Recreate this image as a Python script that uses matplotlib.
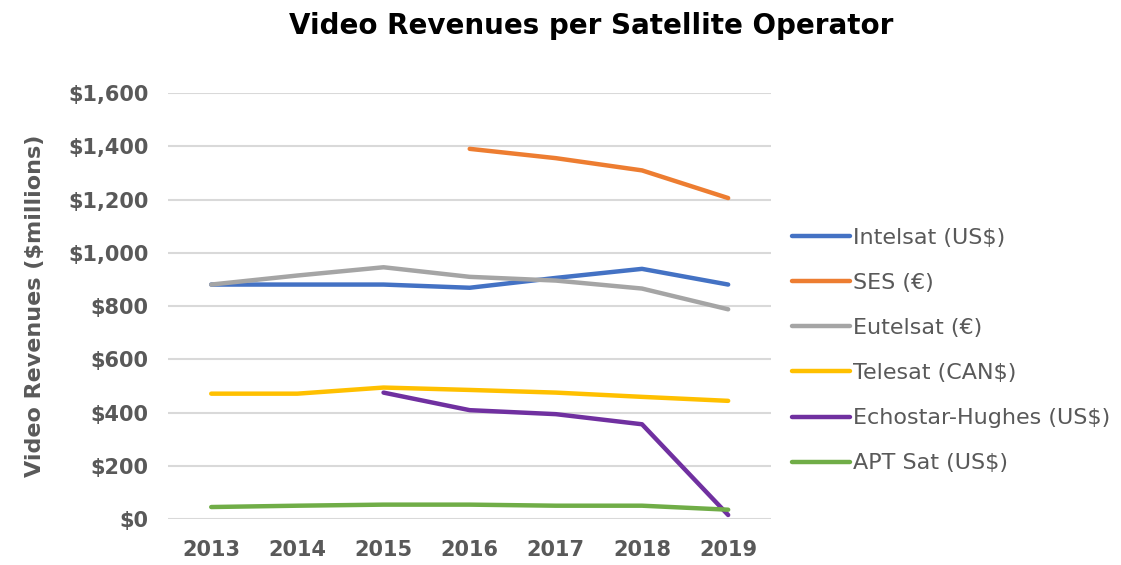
import numpy as np
import matplotlib.pyplot as plt
from matplotlib.ticker import FuncFormatter

years = ["2013", "2014", "2015", "2016", "2017", "2018", "2019"]

intelsat = [881, 881, 881, 869, 906, 940, 881]
ses = [np.nan, np.nan, np.nan, 1391, 1356, 1310, 1206]
eutelsat = [881, 915, 946, 910, 896, 866, 788]
telesat = [471, 471, 494, 485, 475, 459, 444]
echostar = [np.nan, np.nan, 475, 409, 394, 356, 15]
aptsat = [45, 50, 54, 54, 50, 50, 35]

series = [
    ("Intelsat (US$)", intelsat, "#4472C4"),
    ("SES (€)", ses, "#ED7D31"),
    ("Eutelsat (€)", eutelsat, "#A5A5A5"),
    ("Telesat (CAN$)", telesat, "#FFC000"),
    ("Echostar-Hughes (US$)", echostar, "#7030A0"),
    ("APT Sat (US$)", aptsat, "#70AD47"),
]

plt.rcParams["font.family"] = ["DejaVu Sans"]

fig = plt.figure(figsize=(11.21, 5.65), dpi=100)
ax = fig.add_axes([0.15, 0.0814, 0.538, 0.7536])

x = np.arange(len(years))
for name, vals, col in series:
    ax.plot(x, vals, color=col, lw=3.2, label=name, solid_capstyle="round")

ax.set_xlim(-0.5, 6.5)
ax.set_ylim(0, 1600)
ax.set_yticks(np.arange(0, 1601, 200))
ax.yaxis.set_major_formatter(FuncFormatter(lambda v, p: "${:,.0f}".format(v)))
ax.set_xticks(x)
ax.set_xticklabels(years)
ax.grid(axis="y", color="#D9D9D9", lw=1.5)
ax.set_axisbelow(True)
for s in ax.spines.values():
    s.set_visible(False)
ax.tick_params(length=0, labelsize=15, colors="#595959")
ax.tick_params(axis="y", pad=14)
ax.tick_params(axis="x", pad=15)
for lab in ax.get_xticklabels() + ax.get_yticklabels():
    lab.set_fontweight("bold")

ax.set_ylabel("Video Revenues ($millions)", fontsize=16, fontweight="bold",
              color="#595959")
ax.yaxis.set_label_coords(-0.205, 0.5)

fig.suptitle("Video Revenues per Satellite Operator", fontsize=20,
             fontweight="bold", x=0.527, y=0.978)

leg = fig.legend(loc="upper left", bbox_to_anchor=(0.689, 0.632),
                 frameon=False, fontsize=16, handlelength=2.6,
                 handletextpad=0.15, labelspacing=1.13)
for t in leg.get_texts():
    t.set_color("#595959")

fig.savefig("out.png", dpi=100)
